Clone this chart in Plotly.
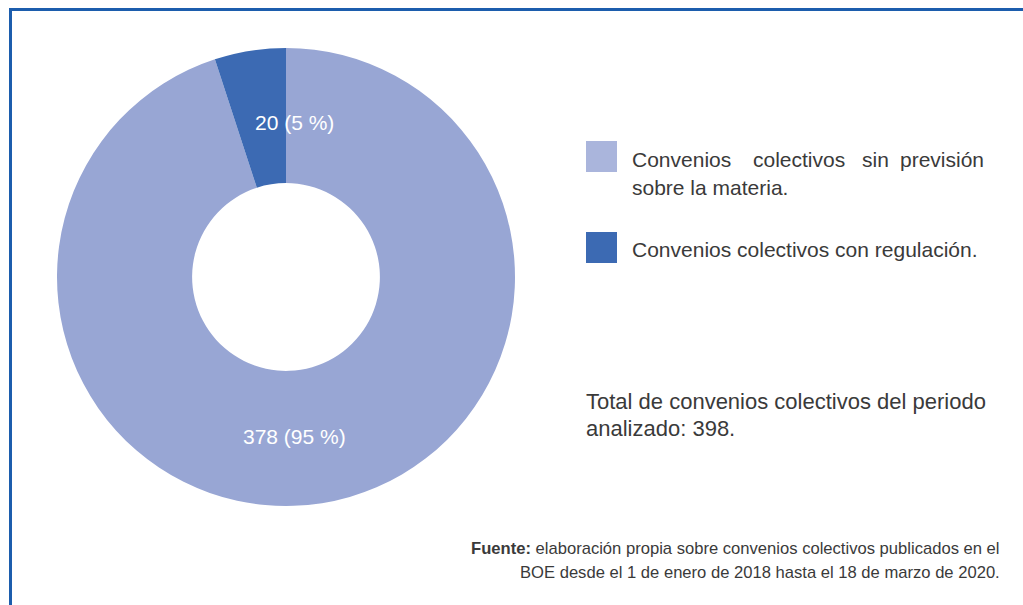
import plotly.graph_objects as go

W, H = 1023, 605

categories = ["Convenios colectivos sin previsión sobre la materia.", "Convenios colectivos con regulación."]
values = [378, 20]
slice_labels = ["378 (95 %)", "20 (5 %)"]
slice_colors = ["#98A6D4", "#3C6AB3"]
legend_colors = ["#AAB5DC", "#3C6AB3"]
total_text = ["Total de convenios colectivos del periodo", "analizado: 398."]
fuente_lines = ["<b>Fuente:</b> elaboración propia sobre convenios colectivos publicados en el",
                "BOE desde el 1 de enero de 2018 hasta el 18 de marzo de 2020."]

FONT = "Liberation Sans, Arial, sans-serif"
TXT = "#3a3a3a"

def px(x):
    return x / W

def py(y):
    return 1 - y / H

fig = go.Figure(go.Pie(
    labels=categories,
    values=values,
    sort=False,
    direction="clockwise",
    rotation=0,
    hole=0.41,
    marker=dict(colors=slice_colors, line=dict(width=0)),
    textinfo="none",
    hoverinfo="label+value+percent",
    domain=dict(x=[px(57), px(515)], y=[py(506), py(48)]),
    showlegend=False,
))

ann = []
# slice labels
ann.append(dict(x=px(294), y=py(437), text=slice_labels[0]))
ann.append(dict(x=px(294), y=py(122), text=slice_labels[1]))
for a in ann:
    a.update(xref="paper", yref="paper", showarrow=False, xanchor="center", yanchor="middle",
             font=dict(family=FONT, size=21, color="white"))

# legend rows
words1 = [("Convenios", 631), ("colectivos", 752), ("sin", 861), ("previsión", 899)]
for w, x in words1:
    ann.append(dict(x=px(x), y=py(159), text=w))
ann.append(dict(x=px(631), y=py(188), text="sobre la materia."))
ann.append(dict(x=px(631), y=py(250), text=categories[1]))
for a in ann[2:]:
    a.update(xref="paper", yref="paper", showarrow=False, xanchor="left", yanchor="middle",
             xshift=-1, font=dict(family=FONT, size=21, color=TXT))

for line, y in zip(total_text, [401, 428]):
    ann.append(dict(x=px(585), y=py(y), text=line, xref="paper", yref="paper", showarrow=False,
                    xanchor="left", yanchor="middle", xshift=-1,
                    font=dict(family=FONT, size=22, color=TXT)))

for line, y in zip(fuente_lines, [548, 572]):
    ann.append(dict(x=px(1002), y=py(y), text=line, xref="paper", yref="paper", showarrow=False,
                    xanchor="right", yanchor="middle",
                    font=dict(family=FONT, size=16.6, color=TXT)))

shapes = [
    dict(type="rect", xref="paper", yref="paper", x0=px(586), x1=px(617), y0=py(172), y1=py(141),
         fillcolor=legend_colors[0], line=dict(width=0)),
    dict(type="rect", xref="paper", yref="paper", x0=px(586), x1=px(617), y0=py(263), y1=py(232),
         fillcolor=legend_colors[1], line=dict(width=0)),
    dict(type="line", xref="paper", yref="paper", x0=px(10.5), x1=px(10.5), y0=py(8), y1=py(610),
         line=dict(color="#1C5DAD", width=3)),
    dict(type="line", xref="paper", yref="paper", x0=px(9), x1=px(1030), y0=py(9.5), y1=py(9.5),
         line=dict(color="#1C5DAD", width=3)),
]

fig.update_layout(
    width=W, height=H,
    margin=dict(l=0, r=0, t=0, b=0),
    paper_bgcolor="white", plot_bgcolor="white",
    annotations=ann, shapes=shapes,
    font=dict(family=FONT),
)

fig.write_html("out.html")
